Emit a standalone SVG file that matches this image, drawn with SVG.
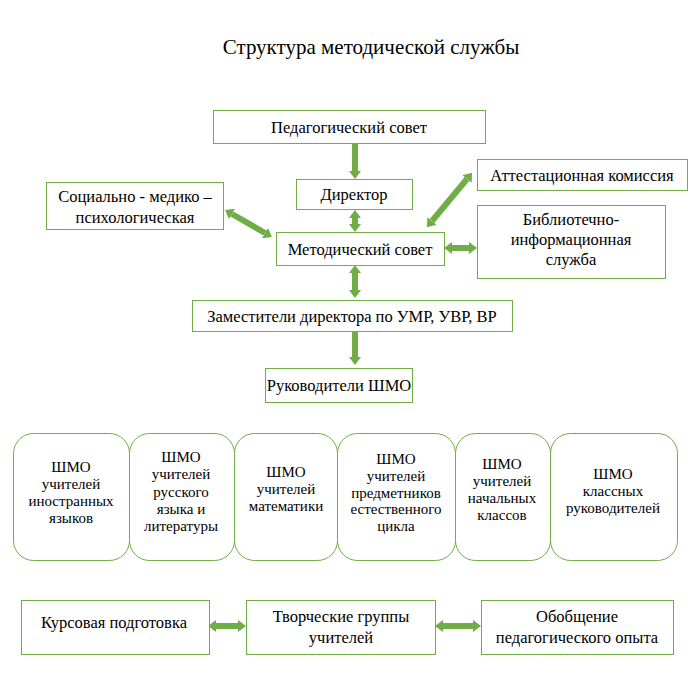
<svg xmlns="http://www.w3.org/2000/svg" width="694" height="681" viewBox="0 0 694 681" font-family="Liberation Serif, Times New Roman, serif">
<style>
text{fill:#000;text-anchor:middle;font-family:"Liberation Serif","Times New Roman",serif}
.t{font-size:16.5px}
.s{font-size:15px}
.title{font-size:21px}
.box{fill:#fff;stroke:#70AD47;stroke-width:1}
.arr{stroke:#70AD47;stroke-width:6;fill:none}
</style>
<defs>
<marker id="ah" viewBox="0 0 8 12" refX="0" refY="6" markerWidth="8" markerHeight="12" markerUnits="userSpaceOnUse" orient="auto-start-reverse">
<path d="M0,0 L8,6 L0,12 z" fill="#70AD47"/>
</marker>
</defs>
<rect width="694" height="681" fill="#fff"/>
<text class="title" x="371" y="54">Структура методической службы</text>

<g id="connectors">
<line class="arr" x1="355" y1="144" x2="355" y2="171" marker-end="url(#ah)"/>
<line class="arr" x1="355" y1="218" x2="355" y2="224" marker-start="url(#ah)" marker-end="url(#ah)"/>
<line class="arr" x1="232" y1="214" x2="265" y2="233" marker-start="url(#ah)" marker-end="url(#ah)"/>
<line class="arr" x1="432" y1="221" x2="467" y2="179" marker-start="url(#ah)" marker-end="url(#ah)"/>
<line class="arr" x1="452" y1="248" x2="469" y2="248" marker-start="url(#ah)" marker-end="url(#ah)"/>
<line class="arr" x1="355" y1="273" x2="355" y2="290" marker-start="url(#ah)" marker-end="url(#ah)"/>
<line class="arr" x1="355" y1="332" x2="355" y2="357" marker-end="url(#ah)"/>
<line class="arr" x1="216" y1="626" x2="238" y2="626" marker-start="url(#ah)" marker-end="url(#ah)"/>
<line class="arr" x1="443" y1="626" x2="473" y2="626" marker-start="url(#ah)" marker-end="url(#ah)"/>
</g>

<g id="ped-sovet"><rect class="box" x="213.5" y="110.5" width="272" height="33"/><text class="t" x="349" y="133">Педагогический совет</text></g>
<g id="direktor"><rect class="box" x="296.5" y="179.5" width="116" height="30"/><text class="t" x="354" y="200">Директор</text></g>
<g id="socialno"><rect class="box" x="46.5" y="182.5" width="177" height="47"/><text class="t" x="135" y="202">Социально - медико –</text><text class="t" x="135" y="223">психологическая</text></g>
<g id="metod-sovet"><rect class="box" x="276.5" y="232.5" width="168" height="33"/><text class="t" x="360" y="255">Методический совет</text></g>
<g id="attest"><rect class="box" x="477.5" y="159.5" width="210" height="31"/><text class="t" x="582" y="181">Аттестационная комиссия</text></g>
<g id="biblio"><rect class="box" x="477.5" y="205.5" width="188" height="73"/><text class="t" x="571" y="225">Библиотечно-</text><text class="t" x="571" y="245">информационная</text><text class="t" x="571" y="265">служба</text></g>
<g id="zam"><rect class="box" x="192.5" y="300.5" width="320" height="31"/><text class="t" x="352" y="322">Заместители директора по УМР, УВР, ВР</text></g>
<g id="ruk-shmo"><rect class="box" x="265.5" y="368.5" width="147" height="34"/><text class="t" x="339" y="391">Руководители ШМО</text></g>

<g id="shmo-in"><rect class="box" x="13.5" y="433.5" width="116" height="127" rx="20"/><text class="s" x="71" y="472">ШМО</text><text class="s" x="71" y="489">учителей</text><text class="s" x="71" y="506">иностранных</text><text class="s" x="71" y="523">языков</text></g>
<g id="shmo-rus"><rect class="box" x="129.5" y="433.5" width="105" height="127" rx="20"/><text class="s" x="181" y="462">ШМО</text><text class="s" x="181" y="479">учителей</text><text class="s" x="181" y="497">русского</text><text class="s" x="181" y="514">языка и</text><text class="s" x="181" y="531">литературы</text></g>
<g id="shmo-mat"><rect class="box" x="234.5" y="433.5" width="103" height="127" rx="20"/><text class="s" x="286" y="477">ШМО</text><text class="s" x="286" y="494">учителей</text><text class="s" x="286" y="511">математики</text></g>
<g id="shmo-est"><rect class="box" x="337.5" y="433.5" width="118" height="127" rx="20"/><text class="s" x="396" y="464">ШМО</text><text class="s" x="396" y="481">учителей</text><text class="s" x="396" y="498">предметников</text><text class="s" x="396" y="514">естественного</text><text class="s" x="396" y="531">цикла</text></g>
<g id="shmo-nach"><rect class="box" x="455.5" y="433.5" width="95" height="127" rx="20"/><text class="s" x="502" y="469">ШМО</text><text class="s" x="502" y="486">учителей</text><text class="s" x="502" y="503">начальных</text><text class="s" x="502" y="520">классов</text></g>
<g id="shmo-kl"><rect class="box" x="550.5" y="433.5" width="127" height="127" rx="20"/><text class="s" x="613" y="479">ШМО</text><text class="s" x="613" y="496">классных</text><text class="s" x="613" y="513">руководителей</text></g>

<g id="kurs"><rect class="box" x="21.5" y="600.5" width="188" height="54"/><text class="t" x="114" y="628">Курсовая подготовка</text></g>
<g id="tvorch"><rect class="box" x="246.5" y="600.5" width="189" height="54"/><text class="t" x="341" y="622">Творческие группы</text><text class="t" x="341" y="643">учителей</text></g>
<g id="obobsh"><rect class="box" x="481.5" y="600.5" width="192" height="54"/><text class="t" x="577" y="622">Обобщение</text><text class="t" x="577" y="643">педагогического опыта</text></g>
</svg>
